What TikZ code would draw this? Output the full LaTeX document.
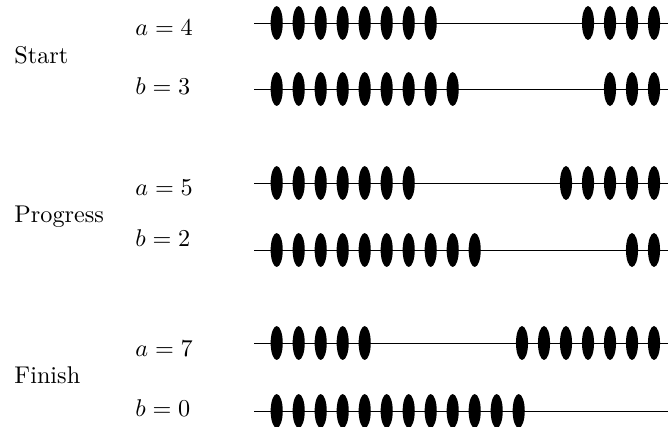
\documentclass[tikz,border=0pt]{standalone}
\usepackage{tikz}
\usetikzlibrary{positioning}
\tikzset{
  rod/.style={draw=black, line width=0.4pt},
  bead/.style={fill=black},
  lbl/.style={anchor=base west, inner sep=0pt},
}
\begin{document}
\begin{tikzpicture}[x=0.413pt, y=-0.413pt]
\useasboundingbox (0,0) rectangle (668,427);

% stage names
\node[lbl] (start) at (14,63) {Start};
\node[lbl] (progress) at (14,222.7) {Progress};
\node[lbl] (finish) at (14,383) {Finish};

% counter values
\node[lbl] (a1) at (135,35) {$a=4$};
\node[lbl] (b1) at (135,94) {$b=3$};
\node[lbl] (a2) at (135,195) {$a=5$};
\node[lbl] (b2) at (135,246.7) {$b=2$};
\node[lbl] (a3) at (135,356.7) {$a=7$};
\node[lbl] (b3) at (135,416.7) {$b=0$};

% rods: height / beads pushed to the left (12 beads each)
\foreach \y/\l in {23/8, 89/9, 183/7, 250/10, 343/5, 411/12} {
  \draw[rod] (254,\y) -- (668,\y);
  \foreach \i in {1,...,12} {
    \pgfmathsetmacro\bx{\i>\l ? 654-22*(12-\i) : 276.7+22*(\i-1)}
    \fill[bead] (\bx,\y) ellipse [x radius=2.5pt, y radius=7pt];
  }
}

\end{tikzpicture}
\end{document}
